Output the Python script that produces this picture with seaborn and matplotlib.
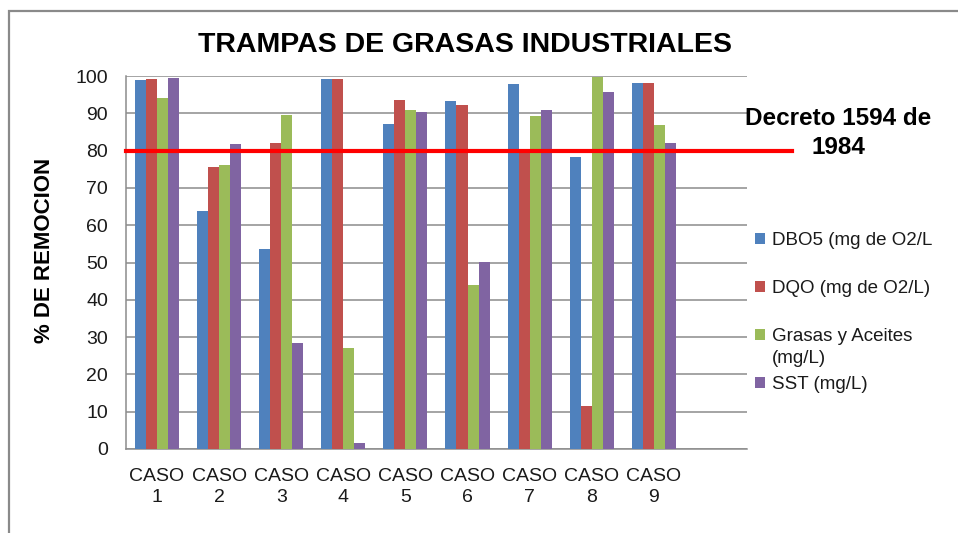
import numpy as np
import pandas as pd
import seaborn as sns
import matplotlib.pyplot as plt
from matplotlib.patches import Rectangle

# chart values
casos = ["CASO\n1", "CASO\n2", "CASO\n3", "CASO\n4", "CASO\n5",
         "CASO\n6", "CASO\n7", "CASO\n8", "CASO\n9"]
series = ["DBO5 (mg de O2/L", "DQO (mg de O2/L)",
          "Grasas y Aceites", "SST (mg/L)"]
dbo5 = [98.9, 63.8, 53.6, 99.3, 87.1, 93.3, 97.9, 78.3, 98.1]
dqo = [99.2, 75.7, 82.0, 99.3, 93.6, 92.2, 80.5, 11.5, 98.1]
grasas = [94.1, 76.1, 89.5, 27.1, 90.9, 44.0, 89.3, 99.8, 86.9]
sst = [99.5, 81.8, 28.5, 1.6, 90.3, 50.1, 90.9, 95.7, 82.0]
colores = ["#4F81BD", "#C0504D", "#9BBB59", "#8064A2"]
limite = 80

df = pd.DataFrame({
    "caso": casos * 4,
    "serie": np.repeat(series, len(casos)),
    "valor": dbo5 + dqo + grasas + sst,
})

plt.rcParams["font.family"] = ["Liberation Sans", "DejaVu Sans"]

fig = plt.figure(figsize=(9.58, 5.33), dpi=100)
ax = fig.add_axes([0.1315, 0.1576, 0.6482, 0.6998])

sns.barplot(data=df, x="caso", y="valor", hue="serie", order=casos,
            hue_order=series, palette=colores, saturation=1,
            errorbar=None, width=0.71, ax=ax, zorder=3)

ax.set_xlim(-0.5, len(casos) + 0.5)
ax.set_ylim(0, 100)
ax.set_yticks(range(0, 101, 10))
ax.grid(axis="y", color="#8c8c8c", linewidth=1.1, zorder=0)
ax.set_axisbelow(True)
for s in ["top", "right"]:
    ax.spines[s].set_visible(False)
for s in ["left", "bottom"]:
    ax.spines[s].set_color("#8c8c8c")
    ax.spines[s].set_linewidth(1.1)
ax.tick_params(axis="y", length=0, pad=13, labelsize=14, colors="#1a1a1a")
ax.tick_params(axis="x", length=0, pad=14, labelsize=14, colors="#1a1a1a")
for t in ax.get_xticklabels():
    t.set_linespacing(1.3)
ax.set_xlabel("")
ax.set_ylabel("")

# limit line of the decree, runs past the plot area
ax.axhline(limite, xmin=0, xmax=1.072, color="#ff0000", linewidth=3,
           clip_on=False, zorder=5)
fig.text(838 / 958, 1 - 133 / 533, "Decreto 1594 de\n1984", ha="center",
         va="center", fontsize=17.5, fontweight="bold", linespacing=1.3)

fig.text(465 / 958, 1 - 45 / 533, "TRAMPAS DE GRASAS INDUSTRIALES",
         ha="center", va="center", fontsize=20.5, fontweight="bold")
fig.text(45 / 958, 1 - 250 / 533, "% DE REMOCION", rotation=90,
         ha="center", va="center", fontsize=16, fontweight="bold")

leg = ax.legend(loc="upper left", bbox_to_anchor=(755 / 958, 1 - 232 / 533),
                bbox_transform=fig.transFigure, frameon=False, fontsize=13.5,
                handlelength=0.55, handleheight=0.55, handletextpad=0.35,
                labelspacing=1.65, borderpad=0, borderaxespad=0)
for t in leg.get_texts():
    t.set_color("#1a1a1a")

# second line of the wrapped legend label, hanging under its first line
fig.canvas.draw()
bb = leg.get_texts()[2].get_window_extent()
fig.text(bb.x0 / 958, (bb.y0 - 5) / 533, "(mg/L)", ha="left", va="top",
         fontsize=13.5, color="#1a1a1a")

# outer chart frame
fig.patches.append(Rectangle((9 / 958, -0.2), 1.2, 1.2 - 11 / 533,
                             transform=fig.transFigure, fill=False,
                             edgecolor="#8a8a8a", linewidth=1.6))

fig.savefig("out.png", dpi=100)
